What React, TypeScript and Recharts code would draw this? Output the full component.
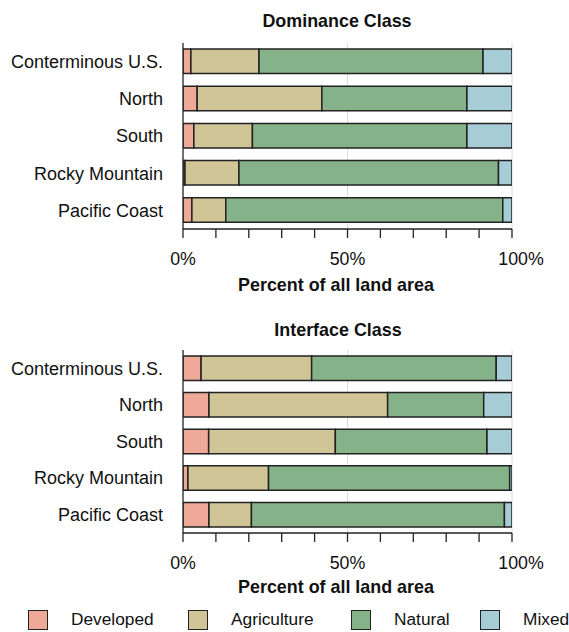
import React from 'react';
import { BarChart, Bar, XAxis, YAxis, CartesianGrid } from 'recharts';

const regions = ['Conterminous U.S.', 'North', 'South', 'Rocky Mountain', 'Pacific Coast'];

const domDeveloped = [2.4, 4.3, 3.3, 0.6, 2.7];
const domAgriculture = [20.7, 37.9, 17.8, 16.4, 10.3];
const domNatural = [68.1, 44.1, 65.2, 78.9, 84.2];
const domMixed = [8.8, 13.7, 13.7, 4.1, 2.8];

const intDeveloped = [5.5, 7.9, 7.8, 1.5, 7.9];
const intAgriculture = [33.6, 54.3, 38.5, 24.5, 12.9];
const intNatural = [56.1, 29.2, 46.1, 73.3, 76.9];
const intMixed = [4.8, 8.6, 7.6, 0.7, 2.3];

const seriesNames = ['Developed', 'Agriculture', 'Natural', 'Mixed'];
const seriesKeys = ['developed', 'agriculture', 'natural', 'mixed'];
const seriesColors = ['#EEA999', '#D0C596', '#86B28A', '#A6CCD6'];

const xTicks = [0, 10, 20, 30, 40, 50, 60, 70, 80, 90, 100];
const gridValues = [50, 100];

const chartTitles = ['Dominance Class', 'Interface Class'];
const axisTitle = 'Percent of all land area';

function build(dev: number[], ag: number[], nat: number[], mix: number[]) {
  return regions.map((name, i) => ({
    name,
    developed: dev[i],
    agriculture: ag[i],
    natural: nat[i],
    mixed: mix[i],
  }));
}

const dominanceData = build(domDeveloped, domAgriculture, domNatural, domMixed);
const interfaceData = build(intDeveloped, intAgriculture, intNatural, intMixed);

const FONT = '"Liberation Sans", Arial, Helvetica, sans-serif';

function gridGen(props: any) {
  const xAxis = props?.xAxis;
  if (xAxis && typeof xAxis.scale === 'function') {
    return gridValues.map((v) => xAxis.scale(v));
  }
  const off = props?.offset || { left: 183, width: 329 };
  return gridValues.map((v) => off.left + (off.width * v) / 100);
}

function XTick(props: any) {
  const { x, y, payload } = props;
  const v = payload?.value;
  if (v % 50 !== 0) return <g />;
  const shift = v === 100 ? 9 : 0;
  return (
    <text
      x={x + shift}
      y={y}
      dy="0.71em"
      textAnchor="middle"
      fill="#111"
      fontSize={17.8}
      fontFamily={FONT}
    >
      {`${v}%`}
    </text>
  );
}

function Panel({ data, top, marginTop, marginBottom }: { data: any[]; top: number; marginTop: number; marginBottom: number }) {
  return (
    <div style={{ position: 'absolute', left: 0, top }}>
      <BarChart
        width={569}
        height={299}
        data={data}
        layout="vertical"
        margin={{ top: marginTop, right: 57, bottom: marginBottom, left: 0 }}
        barSize={24.5}
      >
        <CartesianGrid
          horizontal={false}
          stroke="#dcdcdc"
          strokeWidth={1}
          verticalCoordinatesGenerator={gridGen}
        />
        <XAxis
          type="number"
          domain={[0, 100]}
          ticks={xTicks}
          interval={0}
          allowDataOverflow
          height={30}
          tickSize={9}
          tickMargin={14}
          stroke="#222"
          axisLine={{ stroke: '#222', strokeWidth: 1.3 }}
          tickLine={{ stroke: '#222', strokeWidth: 1.3 }}
          tick={<XTick />}
        />
        <YAxis
          type="category"
          dataKey="name"
          width={183}
          tickLine={false}
          tickSize={0}
          tickMargin={20}
          axisLine={{ stroke: '#222', strokeWidth: 1.3 }}
          tick={{ fill: '#111', fontSize: 18, fontFamily: FONT }}
          interval={0}
        />
        {seriesKeys.map((k, i) => (
          <Bar
            key={k}
            dataKey={k}
            name={seriesNames[i]}
            stackId="a"
            fill={seriesColors[i]}
            stroke="#222"
            strokeWidth={1.5}
            isAnimationActive={false}
          />
        ))}
      </BarChart>
    </div>
  );
}

const textBlock = (text: string, centerX: number, centerY: number, bold: boolean, size: number) => (
  <div
    style={{
      position: 'absolute',
      left: centerX - 200,
      width: 400,
      top: centerY - 12,
      height: 24,
      lineHeight: '24px',
      textAlign: 'center',
      fontWeight: bold ? 'bold' : 'normal',
      fontSize: size,
      color: '#111',
      fontFamily: FONT,
      whiteSpace: 'nowrap',
    }}
  >
    {text}
  </div>
);

const legendX = [28, 188, 351, 480];

export default function App() {
  return (
    <div
      style={{
        position: 'absolute',
        left: 0,
        top: 0,
        width: 569,
        height: 632,
        background: '#fff',
        fontFamily: FONT,
        overflow: 'hidden',
      }}
    >
      {textBlock(chartTitles[0], 337, 20.5, true, 17.9)}
      <Panel data={dominanceData} top={0} marginTop={43} marginBottom={40} />
      {textBlock(axisTitle, 336, 285, true, 17.9)}

      {textBlock(chartTitles[1], 338, 330, true, 17.9)}
      <Panel data={interfaceData} top={306} marginTop={44} marginBottom={42} />
      {textBlock(axisTitle, 336, 587, true, 17.9)}

      {seriesNames.map((n, i) => (
        <div
          key={n}
          style={{
            position: 'absolute',
            left: legendX[i],
            top: 608,
            height: 23,
            display: 'flex',
            alignItems: 'center',
            whiteSpace: 'nowrap',
          }}
        >
          <div
            style={{
              width: 18,
              height: 18,
              background: seriesColors[i],
              border: '1.5px solid #222',
              marginRight: 23,
            }}
          />
          <span style={{ fontSize: 17.3, color: '#111', fontFamily: FONT }}>{n}</span>
        </div>
      ))}
    </div>
  );
}
